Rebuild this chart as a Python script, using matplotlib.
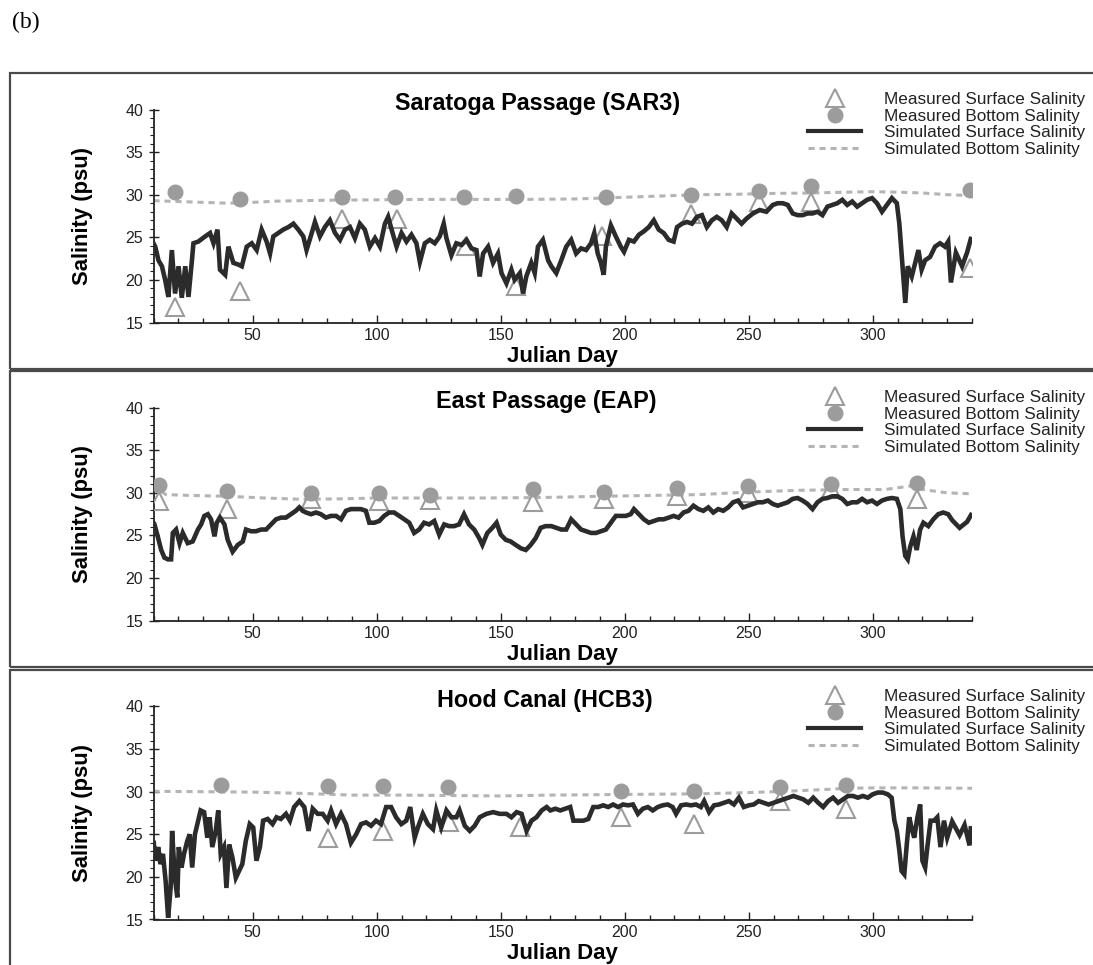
import matplotlib
matplotlib.use("Agg")
import matplotlib.pyplot as plt
from matplotlib.lines import Line2D
from matplotlib.patches import Rectangle
from matplotlib.ticker import MultipleLocator

plt.rcParams['font.family'] = ['Liberation Sans', 'DejaVu Sans']

# ---------------- Saratoga Passage (SAR3) ----------------
sar_days = [10, 10.7, 12, 13.4, 14.7, 16, 17.4, 18.7, 20.1, 21.4, 22.8, 24.1, 25.4, 26.1, 28.1,
            30.8, 32.8, 34.2, 35.8, 36.8, 38.9, 40.2, 42.2, 44.2, 45.6, 47.6, 49.6, 51.6, 53.6,
            55.6, 57, 58.3, 60.3, 62.3, 64.4, 66.4, 68.4, 70.4, 71.7, 73.8, 75.1, 77.1, 79.1,
            81.1, 83.2, 85.2, 87.2, 89.2, 91.2, 93.2, 95.2, 97.2, 99.3, 101.3, 103.3, 104.6, 106,
            108, 110, 112, 114, 116, 117.4, 119.4, 121.4, 123.4, 125.4, 127, 128.1, 130.1, 132.1,
            134.2, 136.2, 138.2, 140.2, 141.5, 142.9, 144.9, 146.9, 148.9, 150.3, 152.3, 154.3,
            155.6, 157.7, 159, 160.3, 162.3, 163.7, 165, 167, 169.1, 170.4, 172.4, 174.4, 176.4,
            178.4, 180.4, 182.4, 184.4, 186.4, 187.7, 189.1, 190.4, 191.5, 192.4, 194.4, 196.4,
            198.4, 199.7, 201.7, 203.7, 205.7, 207.7, 209.7, 211.7, 213.7, 215.7, 217.7, 219.7,
            221.1, 223.1, 225.1, 227.1, 229.1, 231.1, 233.1, 235.1, 237.1, 239.1, 241.1, 243.1,
            245.1, 247.1, 249.1, 251.7, 254.4, 257.1, 259.7, 261.7, 263.7, 265.7, 267.7, 269.7,
            271.7, 273.7, 275.7, 277.7, 279.7, 281.7, 283.7, 285.7, 287.7, 289.7, 291.7, 293.7,
            295.7, 297.7, 299.7, 301.7, 303.7, 305.7, 307.7, 309.7, 310.7, 311.7, 312.4, 313.1,
            314.1, 315.7, 317.1, 318.4, 319.7, 321.1, 323.1, 325.1, 327.1, 329.1, 330.4, 331.5,
            333.5, 336, 338, 339.5]
sar_surf = [24.3, 23.9, 22.3, 21.6, 20.0, 18.0, 23.5, 18.4, 21.6, 17.9, 21.6, 18.0, 22.0, 24.3, 24.5,
            25.1, 25.5, 24.3, 25.9, 21.2, 20.6, 23.9, 22.0, 21.8, 21.6, 23.9, 24.3, 23.5, 25.9,
            24.5, 23.1, 25.1, 25.5, 25.9, 26.2, 26.6, 25.9, 25.1, 23.5, 25.5, 26.8, 25.1, 26.2,
            27.0, 25.5, 24.7, 25.9, 26.2, 24.9, 26.6, 25.9, 23.9, 24.9, 23.9, 26.6, 27.4, 25.9,
            23.9, 25.5, 24.5, 25.3, 24.3, 22.1, 24.3, 24.7, 24.3, 25.1, 26.6, 24.9, 22.9, 24.3,
            24.1, 24.7, 23.7, 23.5, 20.4, 23.1, 23.9, 22.0, 23.1, 20.8, 19.6, 21.2,
            20.0, 20.8, 18.4, 20.4, 22.0, 20.8, 23.9, 24.7, 22.3, 21.6, 20.8, 22.3, 23.9,
            24.7, 23.1, 23.7, 23.5, 24.3, 25.5, 23.1, 22.0, 20.6, 23.9, 26.4, 25.1,
            23.9, 23.3, 24.7, 24.5, 25.3, 25.7, 26.2, 27.0, 25.9, 25.5, 24.7, 24.5,
            26.2, 26.6, 26.8, 26.6, 27.4, 27.6, 26.2, 27.0, 27.4, 27.0, 26.2, 27.8,
            27.2, 26.6, 27.2, 27.8, 28.2, 28.0, 28.8, 29.0, 29.0, 28.8, 27.8, 27.6,
            27.6, 27.8, 27.8, 28.0, 27.6, 28.6, 28.8, 29.0, 29.4, 28.8, 29.2, 28.6,
            29.0, 29.4, 29.6, 29.0, 28.0, 28.8, 29.6, 29.0, 26.6, 22.7, 20.0, 17.3,
            21.6, 20.4, 22.0, 23.5, 21.2, 22.3, 22.7, 23.9, 24.3, 23.9, 24.5, 19.7,
            23.2, 21.6, 23.2, 24.8]
sar_meas_surf_days = [18.5, 45, 86, 108, 136, 156, 191, 226.6, 254, 275, 339]
sar_meas_surf = [16.8, 18.7, 27.1, 27.1, 24.0, 19.3, 25.2, 27.7, 29.1, 29.1, 21.4]
sar_meas_bot_days = [18.6, 45, 86, 107.5, 135, 156, 192.4, 226.6, 254, 275, 339]
sar_meas_bot = [30.35, 29.45, 29.7, 29.7, 29.7, 29.8, 29.7, 30.0, 30.4, 31.0, 30.6]
sar_bot_days = [10, 20, 30, 40, 50, 60, 80, 100, 120, 140, 160, 180, 200, 215, 230, 245, 260,
                275, 290, 300, 310, 320, 330, 340]
sar_bot = [29.3, 29.2, 29.1, 29.0, 29.1, 29.25, 29.35, 29.4, 29.45, 29.45, 29.45, 29.5, 29.7,
           29.85, 30.0, 30.05, 30.15, 30.2, 30.3, 30.35, 30.3, 30.2, 30.0, 29.9]

# ---------------- East Passage (EAP) ----------------
eap_days = [10, 10.4, 11.7, 13.1, 14.4, 15.8, 17.1, 17.8, 19.1, 20.5, 21.8, 23.8, 25.8, 27.9, 29.2,
            30.5, 31.9, 33.2, 34.6, 35.5, 36.8, 38.6, 39.9, 41.9, 44.0, 46.0, 47.3, 49.3, 51.3,
            53.4, 55.4, 57.4, 59.4, 61.4, 63.4, 65.4, 67.4, 68.8, 70.1, 71.5, 73.5, 75.5, 77.5,
            79.5, 81.5, 83.6, 85.6, 87.6, 89.6, 91.6, 93.6, 95.6, 97.0, 99.0, 101.0, 103.0, 105.0,
            107.0, 109.1, 111.1, 113.1, 115.1, 117.1, 119.1, 121.1, 123.2, 125.2, 127.2, 129.2,
            131.2, 133.2, 135.2, 137.2, 139.3, 141.3, 142.6, 144.6, 146.6, 148.3, 150.0, 152.0,
            154.0, 156.0, 158.1, 160.1, 162.1, 164.1, 166.1, 168.1, 170.4, 172.4, 174.4, 176.4,
            178.4, 180.4, 182.4, 184.4, 186.4, 188.4, 190.4, 192.4, 194.4, 196.4, 198.4, 200.4,
            202.4, 203.7, 205.7, 207.7, 209.7, 211.7, 213.7, 215.7, 217.7, 219.7, 221.7, 223.7,
            225.7, 227.7, 229.7, 231.7, 233.7, 235.7, 237.7, 239.7, 241.7, 243.7, 245.7, 247.7,
            249.7, 251.7, 253.7, 255.7, 257.7, 259.7, 261.7, 263.7, 265.7, 267.7, 269.7, 271.7,
            273.7, 275.7, 277.7, 279.7, 281.7, 283.7, 285.7, 287.7, 289.7, 291.7, 293.7, 295.7,
            297.7, 299.7, 301.7, 303.7, 305.7, 307.7, 309.7, 311.1, 312.0, 313.1, 314.1, 315.1,
            316.4, 317.7, 319.1, 320.4, 322.4, 324.4, 326.4, 328.4, 330.4, 332, 335, 338, 339.6]
eap_surf = [26.5, 26.3, 24.9, 23.3, 22.4, 22.2, 22.2, 25.3, 25.7, 24.1, 25.3, 24.1, 24.3, 25.7, 26.3,
            27.3, 27.5, 26.9, 24.9, 26.5, 27.1, 26.3, 24.5, 23.1, 23.9, 24.3, 25.7, 25.5, 25.5,
            25.7, 25.7, 26.3, 26.9, 27.1, 27.1, 27.5, 27.9, 28.3, 27.9, 27.7, 27.5, 27.7, 27.5,
            27.1, 27.3, 27.3, 26.9, 27.9, 28.1, 28.1, 28.1, 27.9, 26.5, 26.5, 26.7, 27.3, 27.7,
            27.7, 27.3, 26.9, 26.5, 25.3, 25.7, 26.5, 26.3, 26.7, 25.1, 26.3, 26.1,
            26.1, 26.3, 27.5, 26.3, 25.7, 24.7, 23.9, 25.3, 25.9, 26.5, 25.1, 24.5,
            24.3, 23.9, 23.5, 23.3, 23.9, 24.7, 25.9, 26.1, 26.1, 25.9, 25.7, 25.7,
            26.9, 26.3, 25.7, 25.5, 25.3, 25.3, 25.5, 25.7, 26.5, 27.3, 27.3, 27.3,
            27.5, 28.1, 27.5, 26.9, 26.5, 26.7, 26.9, 26.9, 27.1, 27.3, 27.1, 27.7,
            27.9, 28.5, 28.1, 27.9, 28.3, 27.7, 28.1, 27.9, 28.3, 28.9, 29.1, 28.3,
            28.5, 28.7, 28.9, 28.9, 29.1, 28.7, 28.5, 28.7, 28.9, 29.3, 29.4, 29.1,
            28.7, 28.1, 28.9, 29.3, 29.4, 29.6, 29.6, 29.3, 28.7, 28.9, 28.9, 29.3,
            28.9, 29.1, 28.7, 29.1, 29.3, 29.4, 29.3, 28.1, 24.9, 22.6, 22.2, 23.7,
            24.9, 23.3, 25.7, 26.5, 26.1, 26.9, 27.5, 27.7, 27.5, 26.8, 25.9, 26.6, 27.4]
eap_meas_days = [12.4, 39.5, 73.5, 101, 121.4, 163, 191.7, 221, 249.7, 283.3, 317.7]
eap_meas_surf = [29.0, 28.1, 29.3, 29.1, 29.2, 28.9, 29.3, 29.6, 30.0, 30.4, 29.3]
eap_meas_bot = [30.9, 30.2, 30.0, 30.0, 29.7, 30.4, 30.1, 30.6, 30.8, 31.1, 31.2]
eap_bot_days = [10, 12, 15, 25, 40, 55, 70, 85, 100, 120, 140, 165, 190, 210, 230, 250, 270,
                290, 305, 315, 320, 330, 340]
eap_bot = [31.0, 30.4, 29.8, 29.7, 29.6, 29.4, 29.25, 29.3, 29.4, 29.4, 29.4, 29.45, 29.6,
           29.7, 29.8, 30.1, 30.3, 30.4, 30.4, 30.8, 30.4, 30.0, 29.9]

# ---------------- Hood Canal (HCB3) ----------------
hcb_days = [10.1, 10.8, 11.9, 12.8, 13.8, 14.9, 15.9, 16.9, 17.5, 18.6, 19.6, 20.2, 21.3, 22.3, 23.6,
            24.6, 25.6, 26.7, 27.7, 29.0, 30.4, 31.7, 32.6, 33.7, 35.1, 36.1, 37.1, 38.4, 39.4,
            40.5, 41.8, 43.2, 44.5, 45.8, 47.2, 48.8, 50.2, 51.5, 52.9, 54.2, 56.0, 58.0, 59.6,
            61.3, 63.4, 65.0, 66.7, 68.8, 70.8, 72.5, 74.2, 76.2, 78.2, 80.2, 81.6, 83.6, 85.6,
            87.6, 89.6, 91.7, 93.7, 95.7, 97.7, 99.7, 101.7, 103.8, 105.8, 107.8, 109.9, 111.9,
            113.5, 115.3, 116.6, 118.6, 120.6, 122.7, 124.0, 126.0, 128.1, 130.1, 132.1, 133.4,
            135.5, 137.5, 139.5, 141.5, 144.2, 146.9, 149.6, 152.3, 154.3, 156.4, 158.4, 160.4,
            162.4, 164.4, 166.5, 168.5, 170.0, 172.0, 174.0, 176.0, 178.0, 179.3, 181.3, 183.3,
            185.3, 187.3, 189.3, 191.3, 193.3, 195.3, 197.3, 199.3, 201.3, 203.3, 205.3, 207.3,
            209.3, 211.3, 213.3, 215.3, 217.3, 219.3, 220.7, 222.7, 224.7, 226.7, 228.7, 230.7,
            232.0, 234.0, 236.0, 238.0, 240.0, 242.0, 244.0, 246.0, 248.0, 250.0, 252.0, 254.0,
            256.0, 258.0, 260.0, 262.0, 264.0, 266.0, 268.0, 270.0, 272.0, 274.0, 276.0, 278.0,
            280.0, 282.0, 284.0, 286.0, 288.0, 290.0, 292.0, 294.0, 296.0, 298.0, 300.0, 302.0,
            304.0, 306.0, 307.6, 308.7, 309.7, 310.7, 311.6, 312.7, 313.7, 314.7, 315.6, 316.7,
            318.0, 319.1, 320.0, 321.1, 322.0, 323.3, 324.7, 326.0, 327.3, 328.7, 330.0, 332.0,
            335.0, 337.0, 339.0, 339.5]
hcb_surf = [24.0, 21.9, 23.5, 21.5, 22.7, 19.5, 15.2, 18.7, 25.4, 19.9, 17.6, 23.5, 21.1, 22.7, 24.2,
            25.0, 21.1, 25.0, 26.2, 27.8, 27.6, 24.6, 27.0, 23.5, 25.4, 27.8, 22.7, 23.5, 18.7,
            23.8, 22.3, 19.9, 20.7, 21.5, 24.2, 26.2, 25.8, 21.9, 23.5, 26.6, 26.8, 26.2, 27.0,
            26.8, 27.4, 26.6, 28.2, 28.9, 28.2, 25.4, 28.0, 27.4, 27.4, 26.6, 27.8, 26.2, 27.4,
            26.2, 24.0, 25.0, 26.2, 26.4, 26.0, 26.6, 26.2, 28.2, 28.2, 27.0, 26.2, 26.6,
            28.2, 24.6, 25.8, 27.4, 26.2, 25.6, 27.8, 25.8, 27.8, 27.0, 27.0, 27.8,
            26.0, 25.4, 26.0, 27.0, 27.4, 27.6, 27.4, 27.4, 27.0, 27.6, 27.4, 25.4,
            26.6, 27.0, 27.8, 28.2, 27.8, 28.0, 27.8, 28.0, 28.2, 26.6, 26.6, 26.6,
            26.8, 28.2, 28.2, 28.4, 28.2, 28.5, 28.2, 28.5, 28.4, 28.5, 27.4, 28.0,
            28.2, 27.8, 28.2, 28.4, 28.5, 28.2, 27.4, 28.4, 28.5, 28.4, 28.5, 28.2,
            28.9, 27.6, 28.4, 28.5, 28.7, 28.9, 28.5, 29.3, 28.2, 28.4, 28.5, 28.9,
            28.7, 28.5, 28.7, 28.9, 29.1, 29.3, 29.5, 29.3, 29.1, 28.7, 29.3, 28.7,
            28.2, 28.9, 29.3, 28.7, 29.1, 29.5, 29.5, 29.3, 29.5, 29.3, 29.7, 29.9,
            29.9, 29.7, 29.3, 26.6, 25.4, 23.1, 20.7, 20.3, 23.8, 27.0, 25.8, 24.6,
            27.0, 28.5, 21.9, 21.1, 23.5, 26.6, 26.6, 27.0, 23.5, 26.6, 24.6, 26.5,
            24.9, 26.1, 23.7, 25.7]
hcb_meas_surf_days = [80.2, 102.5, 129, 157.7, 198.4, 228, 262.4, 289]
hcb_meas_surf = [24.6, 25.4, 26.4, 25.8, 27.0, 26.2, 28.9, 28.0]
hcb_meas_bot_days = [37.1, 80.2, 102.5, 128.7, 198.4, 228, 262.4, 289]
hcb_meas_bot = [30.8, 30.7, 30.7, 30.5, 30.1, 30.1, 30.5, 30.8]
hcb_bot_days = [10, 30, 50, 70, 90, 110, 130, 150, 170, 190, 210, 230, 250, 265, 280, 290,
                300, 320, 340]
hcb_bot = [30.05, 30.0, 29.95, 29.8, 29.6, 29.6, 29.55, 29.5, 29.6, 29.65, 29.7, 29.75, 29.9,
           30.05, 30.25, 30.4, 30.45, 30.45, 30.4]

titles = ['Saratoga Passage (SAR3)', 'East Passage (EAP)', 'Hood Canal (HCB3)']
legend_labels = ['Measured Surface Salinity', 'Measured Bottom Salinity',
                 'Simulated Surface Salinity', 'Simulated Bottom Salinity']

panels = [
    (sar_days, sar_surf, sar_bot_days, sar_bot, sar_meas_surf_days, sar_meas_surf,
     sar_meas_bot_days, sar_meas_bot),
    (eap_days, eap_surf, eap_bot_days, eap_bot, eap_meas_days, eap_meas_surf,
     eap_meas_days, eap_meas_bot),
    (hcb_days, hcb_surf, hcb_bot_days, hcb_bot, hcb_meas_surf_days, hcb_meas_surf,
     hcb_meas_bot_days, hcb_meas_bot),
]

line_col = '#2b2b2b'
dash_col = '#b4b4b4'
mark_col = '#9c9c9c'
dash_style = (0, (2.0, 1.6))

W, H = 1093, 965
fig = plt.figure(figsize=(W / 100, H / 100), dpi=100)

# panel frames (pixel boxes -> figure fraction)
for top, bot in [(73, 369), (371, 667), (670, 975)]:
    fig.patches.append(Rectangle((10 / W, 1 - bot / H), 1.2, (bot - top) / H,
                                 transform=fig.transFigure, fill=False,
                                 edgecolor='#4a4a4a', lw=1.6))

fig.text(12 / W, 1 - 22 / H, '(b)', family='Liberation Serif', fontsize=17,
         ha='left', va='center')

axes_tops = [109.5, 407.7, 706.5]
title_x = [0.469, 0.480, 0.478]
ax_left, ax_w, ax_h = 153.5, 818.5, 213
handles = [
    Line2D([], [], marker='^', ls='none', mfc='none', mec=mark_col, ms=13.5, mew=1.5),
    Line2D([], [], marker='o', ls='none', color=mark_col, ms=10.5),
    Line2D([], [], color=line_col, lw=3),
    Line2D([], [], color=dash_col, lw=2.2, ls=dash_style),
]

for (days, surf, bdays, bot, msd, ms_, mbd, mb), top, title, tx in zip(panels, axes_tops,
                                                                       titles, title_x):
    ax = fig.add_axes([ax_left / W, 1 - (top + ax_h) / H, ax_w / W, ax_h / H])
    ax.plot(bdays, bot, color=dash_col, lw=2.2, ls=dash_style, zorder=2)
    ax.plot(mbd, mb, 'o', color=mark_col, ms=10.5, zorder=3)
    ax.plot(msd, ms_, '^', mfc='none', mec=mark_col, ms=13.5, mew=1.5, zorder=3)
    ax.plot(days, surf, color=line_col, lw=3.3, zorder=4, solid_joinstyle='miter')

    ax.set_xlim(10, 340)
    ax.set_ylim(15, 40)
    for s in ['top', 'right']:
        ax.spines[s].set_visible(False)
    for s in ['left', 'bottom']:
        ax.spines[s].set_color('#222222')
        ax.spines[s].set_linewidth(1.3)
    ax.xaxis.set_major_locator(MultipleLocator(50))
    ax.xaxis.set_minor_locator(MultipleLocator(10))
    ax.yaxis.set_major_locator(MultipleLocator(5))
    ax.yaxis.set_minor_locator(MultipleLocator(1))
    ax.tick_params(axis='x', which='major', direction='in', length=6, width=1,
                   labelsize=11.5, pad=4, colors='#222222')
    ax.tick_params(axis='x', which='minor', direction='in', length=3.5, width=1,
                   colors='#222222')
    ax.tick_params(axis='y', which='major', direction='inout', length=7, width=1,
                   labelsize=11.5, pad=4, colors='#222222')
    ax.tick_params(axis='y', which='minor', direction='out', length=3, width=0.8,
                   colors='#222222')
    ax.patch.set_alpha(0)

    ax.text(tx, 1.03, title, transform=ax.transAxes, ha='center', va='center',
            fontsize=16.8, fontweight='bold')
    ax.text(-0.087, 0.5, 'Salinity (psu)', transform=ax.transAxes, rotation=90,
            ha='center', va='center', fontsize=15.8, fontweight='bold')
    ax.text(0.5, -0.16, 'Julian Day', transform=ax.transAxes, ha='center',
            va='center', fontsize=16, fontweight='bold')

    leg = ax.legend(handles, legend_labels, loc='upper left', bbox_to_anchor=(0.80, 1.082),
                    frameon=False, fontsize=12.3, handlelength=3.1, handletextpad=1.35,
                    labelspacing=0.09, borderpad=0, borderaxespad=0)
    for t in leg.get_texts():
        t.set_color('#222222')

fig.savefig('out.png', dpi=100)
